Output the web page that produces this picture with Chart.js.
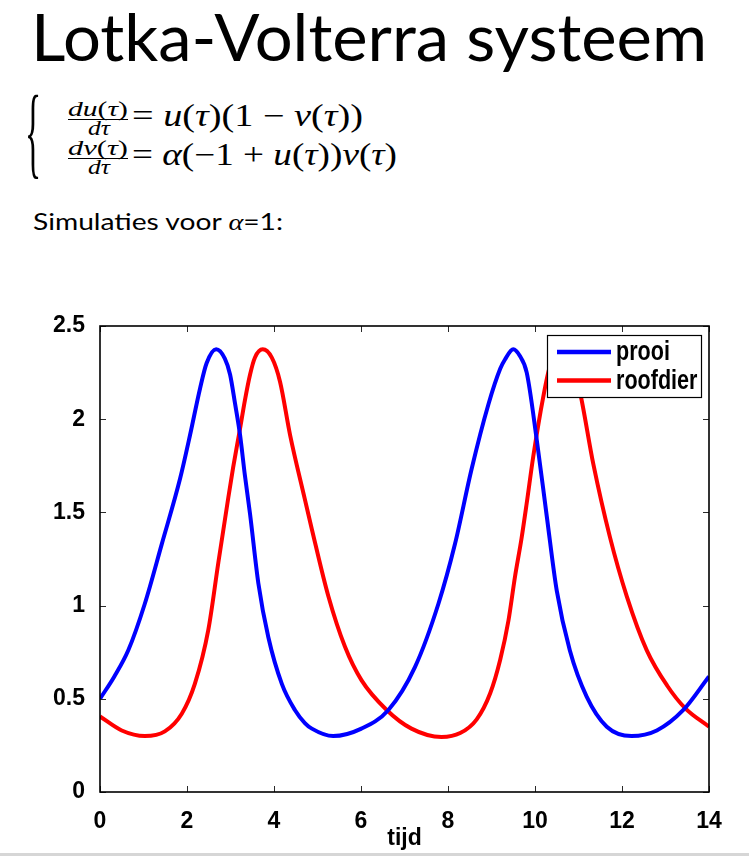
<!DOCTYPE html>
<html>
<head>
<meta charset="utf-8">
<script src="https://cdn.jsdelivr.net/npm/chart.js"></script>
<style>
  body { margin: 0; width: 749px; height: 856px; overflow: hidden; background: #fff; position: relative; }
  .t { position: absolute; white-space: nowrap; display: inline-block; transform-origin: left top; color: #000; }
  .slide { font-family: Lato, "Open Sans", sans-serif; }
  .m { font-family: "Liberation Serif", serif; }
  .m i { font-style: italic; }
  .bar { position: absolute; height: 1px; background: #000; }
  #wrap { position: absolute; left: 0; top: 300px; width: 749px; height: 552px; }
  #bottomLine { position: absolute; left: 0; top: 853px; width: 749px; height: 3px; background: #d6d6d6; }
</style>
</head>
<body>

<div class="t slide" id="title" data-w="676" style="left:31px; top:3px; font-size:66px; line-height:66px;">Lotka-Volterra systeem</div>

<!-- brace + two equations -->
<div class="t m" id="brace" style="left:25px; top:80px; font-size:48px; line-height:48px; transform: scale(0.7, 2.12);">{</div>

<div class="t m" data-w="60" style="left:68px; top:99px; font-size:20px; line-height:20px;"><i>du</i>(<i>τ</i>)</div>
<div class="bar" style="left:68px; top:119px; width:60px;"></div>
<div class="t m" data-w="22" style="left:88px; top:118px; font-size:20px; line-height:20px;"><i>dτ</i></div>
<div class="t m" data-w="231" style="left:132px; top:100px; font-size:31px; line-height:31px;">= <i>u</i>(<i>τ</i>)(1 − <i>v</i>(<i>τ</i>))</div>

<div class="t m" data-w="60" style="left:68px; top:138px; font-size:20px; line-height:20px;"><i>dv</i>(<i>τ</i>)</div>
<div class="bar" style="left:68px; top:158px; width:60px;"></div>
<div class="t m" data-w="22" style="left:88px; top:157px; font-size:20px; line-height:20px;"><i>dτ</i></div>
<div class="t m" data-w="265" style="left:132px; top:139px; font-size:31px; line-height:31px;">= <i>α</i>(−1 + <i>u</i>(<i>τ</i>))<i>v</i>(<i>τ</i>)</div>

<div class="t slide" data-w="250" style="left:33px; top:209px; font-size:24px; line-height:24px;">Simulaties voor <span class="m"><i>α</i></span>=1:</div>

<div id="wrap"><canvas id="myChart" width="749" height="552"></canvas></div>
<div id="bottomLine"></div>

<script>
// stretch/squeeze texts so they cover the same width as in the slide
document.querySelectorAll('[data-w]').forEach(el => {
    var w = el.getBoundingClientRect().width;
    el.style.transform = 'scaleX(' + (parseFloat(el.dataset.w) / w) + ')';
});

// simulation (t, value)
const prooiT = [0, 0.33, 0.65, 1.03, 1.42, 1.84, 2.07, 2.30, 2.45, 2.67, 2.87, 2.99, 3.10, 3.22, 3.33, 3.45, 3.64, 3.87, 4.18, 4.48, 4.71, 4.87, 5.36,
                6.01, 6.63, 7.24, 7.78, 8.16, 8.54, 8.93, 9.20, 9.31, 9.50, 9.65, 9.81, 10.04, 10.27, 10.50, 10.80, 11.19, 11.65, 12.22, 12.80, 13.41, 14];
const prooiU = [0.50, 0.62, 0.76, 1.01, 1.33, 1.68, 1.915, 2.165, 2.30, 2.375, 2.325, 2.24, 2.09, 1.915, 1.70, 1.49, 1.12, 0.83, 0.58, 0.44, 0.37, 0.34, 0.30,
                0.34, 0.44, 0.67, 1.01, 1.33, 1.73, 2.08, 2.27, 2.32, 2.375, 2.34, 2.25, 1.89, 1.48, 1.08, 0.76, 0.51, 0.35, 0.30, 0.33, 0.44, 0.62];

const roofdierT = [0, 0.50, 1.03, 1.49, 1.88, 2.18, 2.49, 2.72, 2.95, 3.06, 3.22, 3.33, 3.45, 3.56, 3.74, 3.95, 4.14, 4.37, 4.71, 4.87, 5.25, 5.63,
                   6.01, 6.59, 7.16, 7.85, 8.28, 8.66, 8.97, 9.20, 9.39, 9.54, 9.69, 9.81, 9.96, 10.19, 10.35, 10.60, 10.81, 11.03, 11.34, 11.72, 12.11, 12.57, 13.04, 13.45, 14];
const roofdierV = [0.405, 0.33, 0.30, 0.325, 0.42, 0.58, 0.87, 1.23, 1.58, 1.74, 1.95, 2.10, 2.24, 2.33, 2.375, 2.33, 2.20, 1.915, 1.57, 1.41, 1.05, 0.78,
                   0.60, 0.44, 0.34, 0.295, 0.316, 0.39, 0.53, 0.71, 0.92, 1.155, 1.36, 1.55, 1.80, 2.12, 2.29, 2.375, 2.33, 2.15, 1.76, 1.37, 1.05, 0.76, 0.57, 0.45, 0.35];

const xTicksStep = 2;
const yTicksStep = 0.5;

var tickFont = { family: 'Liberation Sans', weight: 'bold', size: 23 };

// matlab style box with inward ticks, plus the legend on top of the lines
const boxPlugin = {
    id: 'matlabBox',
    afterDatasetsDraw(chart) {
        const ctx = chart.ctx;
        const a = chart.chartArea;
        const sx = chart.scales.x, sy = chart.scales.y;
        ctx.save();
        ctx.strokeStyle = '#2a2a2a';
        ctx.lineWidth = 1;
        ctx.beginPath();
        sx.ticks.forEach(t => {
            var px = Math.round(sx.getPixelForValue(t.value)) + 0.5;
            ctx.moveTo(px, a.bottom); ctx.lineTo(px, a.bottom - 6);
            ctx.moveTo(px, a.top); ctx.lineTo(px, a.top + 6);
        });
        sy.ticks.forEach(t => {
            var py = Math.round(sy.getPixelForValue(t.value)) + 0.5;
            ctx.moveTo(a.left, py); ctx.lineTo(a.left + 6, py);
            ctx.moveTo(a.right, py); ctx.lineTo(a.right - 6, py);
        });
        ctx.stroke();
        ctx.strokeStyle = '#000';
        ctx.lineWidth = 1.6;
        ctx.strokeRect(a.left, a.top, a.right - a.left, a.bottom - a.top);

        // legend
        var bw = 154, bh = 62;
        var bx = a.right - 8 - bw, by = a.top + 9;
        ctx.fillStyle = '#fff';
        ctx.fillRect(bx, by, bw, bh);
        ctx.lineWidth = 1.2;
        ctx.strokeRect(bx + 0.5, by + 0.5, bw, bh);
        chart.data.datasets.forEach((ds, i) => {
            var rowY = by + 17 + i * 28.5;
            ctx.strokeStyle = ds.borderColor;
            ctx.lineWidth = 4.5;
            ctx.beginPath();
            ctx.moveTo(bx + 10, rowY);
            ctx.lineTo(bx + 64, rowY);
            ctx.stroke();
            ctx.save();
            ctx.translate(bx + 69, rowY + 8);
            ctx.scale(0.77, 1);
            ctx.fillStyle = '#000';
            ctx.font = 'bold 28px "Liberation Sans"';
            ctx.fillText(ds.label, 0, 0);
            ctx.restore();
        });
        ctx.restore();
    }
};

const data = {
    datasets: [{
        label: 'prooi',
        data: prooiT.map((t, i) => ({ x: t, y: prooiU[i] })),
        borderColor: 'rgb(0, 0, 255)',
        borderWidth: 4,
        pointRadius: 0,
        cubicInterpolationMode: 'monotone'
    }, {
        label: 'roofdier',
        data: roofdierT.map((t, i) => ({ x: t, y: roofdierV[i] })),
        borderColor: 'rgb(255, 0, 0)',
        borderWidth: 4,
        pointRadius: 0,
        cubicInterpolationMode: 'monotone'
    }]
};

const config = {
    type: 'line',
    data: data,
    options: {
        responsive: false,
        animation: false,
        layout: { padding: { top: 26, right: 40, left: 0, bottom: 0 } },
        plugins: {
            legend: { display: false },
            tooltip: { enabled: false }
        },
        scales: {
            x: {
                type: 'linear', min: 0, max: 14,
                grid: { display: false },
                border: { display: false },
                ticks: { stepSize: xTicksStep, color: '#000', font: tickFont, padding: 8, maxRotation: 0 },
                title: { display: true, text: 'tijd', color: '#000', font: tickFont, padding: { top: 0, bottom: 0 } },
                afterFit: s => { s.height = 60; }
            },
            y: {
                min: 0, max: 2.5,
                grid: { display: false },
                border: { display: false },
                ticks: {
                    stepSize: yTicksStep, color: '#000', font: tickFont, padding: 7,
                    callback: v => String(Math.round(v * 10) / 10)
                },
                afterFit: s => { s.width = 100; }
            }
        }
    },
    plugins: [boxPlugin]
};

const myChart = new Chart(document.getElementById('myChart'), config);
</script>
</body>
</html>
